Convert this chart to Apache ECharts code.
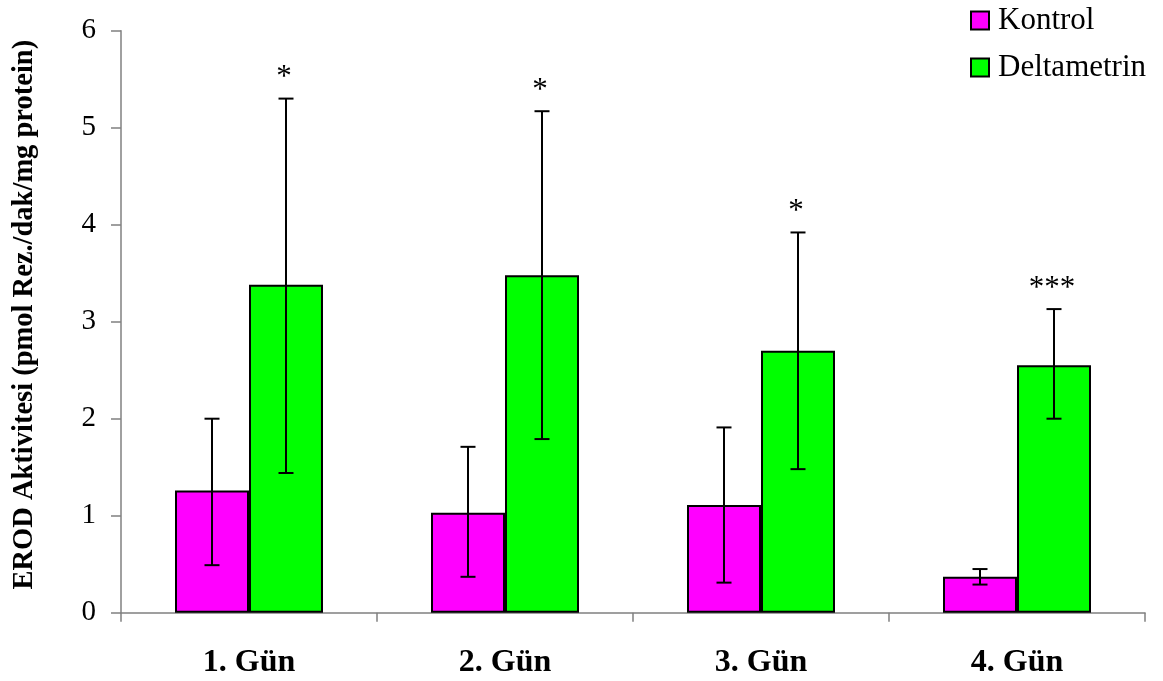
<!DOCTYPE html>
<html>
<head>
<meta charset="utf-8">
<script src="https://cdn.jsdelivr.net/npm/echarts@6/dist/echarts.min.js"></script>
<style>
html,body{margin:0;padding:0;background:#fff;}
#chart{width:1163px;height:681px;}
</style>
</head>
<body>
<div id="chart"></div>
<script>
var categories = ['1. Gün', '2. Gün', '3. Gün', '4. Gün'];
var kontrolMean = [1.26, 1.03, 1.11, 0.37];
var kontrolLow = [0.49, 0.37, 0.31, 0.29];
var kontrolHigh = [2.00, 1.71, 1.91, 0.45];
var deltaMean = [3.38, 3.48, 2.70, 2.55];
var deltaLow = [1.44, 1.79, 1.48, 2.00];
var deltaHigh = [5.30, 5.17, 3.92, 3.13];
var significance = ['*', '*', '*', '***'];
var yTicks = [0, 1, 2, 3, 4, 5, 6];

var FONT = '"Liberation Serif", "Times New Roman", serif';
var chart = echarts.init(document.getElementById('chart'));

function errorSeries(name, low, high, seriesIndex, stars) {
  var data = categories.map(function (c, i) { return [i, low[i], high[i], stars ? stars[i] : '']; });
  return {
    type: 'custom',
    name: name + ' SD',
    data: data,
    z: 10,
    encode: { x: 0, y: [1, 2] },
    renderItem: function (params, api) {
      var idx = api.value(0);
      var lowP = api.coord([idx, api.value(1)]);
      var highP = api.coord([idx, api.value(2)]);
      var barW = 74;
      var totalW = barW * 2;
      var x = lowP[0] - totalW / 2 + barW * seriesIndex + barW / 2;
      var cap = 7.5;
      var st = { stroke: '#000', lineWidth: 2 };
      var children = [
        { type: 'line', shape: { x1: x, y1: lowP[1], x2: x, y2: highP[1] }, style: st },
        { type: 'line', shape: { x1: x - cap, y1: highP[1], x2: x + cap, y2: highP[1] }, style: st },
        { type: 'line', shape: { x1: x - cap, y1: lowP[1], x2: x + cap, y2: lowP[1] }, style: st }
      ];
      var s = data[params.dataIndex][3];
      if (s) {
        children.push({
          type: 'text',
          style: {
            x: x - 2, y: highP[1] - 5, text: s,
            fontFamily: FONT, fontSize: 31, fill: '#000',
            align: 'center', verticalAlign: 'bottom'
          }
        });
      }
      return { type: 'group', children: children };
    }
  };
}

chart.setOption({
  animation: false,
  backgroundColor: '#fff',
  grid: { left: 121, right: 18, top: 30.7, bottom: 68.3, containLabel: false },
  legend: {
    orient: 'vertical',
    left: 965, top: 0,
    icon: 'rect',
    itemWidth: 18, itemHeight: 18, itemGap: 16,
    data: ['Kontrol', 'Deltametrin'],
    itemStyle: { borderColor: '#000', borderWidth: 2 },
    textStyle: { fontFamily: FONT, fontSize: 31, color: '#000', padding: [0, 0, 0, 4] }
  },
  xAxis: {
    type: 'category',
    data: categories,
    axisLine: { show: true, lineStyle: { color: '#808080', width: 1.5 } },
    axisTick: { show: true, alignWithLabel: false, length: 9, lineStyle: { color: '#808080', width: 1.5 } },
    axisLabel: { fontFamily: FONT, fontSize: 32, fontWeight: 'bold', color: '#000', margin: 34 },
    splitLine: { show: false }
  },
  yAxis: {
    type: 'value',
    min: yTicks[0], max: yTicks[yTicks.length - 1], interval: 1,
    name: 'EROD Aktivitesi (pmol Rez./dak/mg protein)',
    nameLocation: 'middle',
    nameGap: 82,
    nameTextStyle: { fontFamily: FONT, fontSize: 28.5, fontWeight: 'bold', color: '#000', padding: [0, 0, 0, 14] },
    axisLine: { show: true, lineStyle: { color: '#808080', width: 1.5 } },
    axisTick: { show: true, length: 10, lineStyle: { color: '#808080', width: 1.5 } },
    axisLabel: { fontFamily: FONT, fontSize: 29, color: '#000', margin: 25, padding: [5, 0, 0, 0] },
    splitLine: { show: false }
  },
  series: [
    {
      name: 'Kontrol', type: 'bar', data: kontrolMean,
      barWidth: 74, barGap: '0%',
      itemStyle: { color: '#FF00FF', borderColor: '#000', borderWidth: 2 }
    },
    {
      name: 'Deltametrin', type: 'bar', data: deltaMean,
      barWidth: 74, barGap: '0%',
      itemStyle: { color: '#00FF00', borderColor: '#000', borderWidth: 2 }
    },
    errorSeries('Kontrol', kontrolLow, kontrolHigh, 0, null),
    errorSeries('Deltametrin', deltaLow, deltaHigh, 1, significance)
  ]
});
</script>
</body>
</html>
